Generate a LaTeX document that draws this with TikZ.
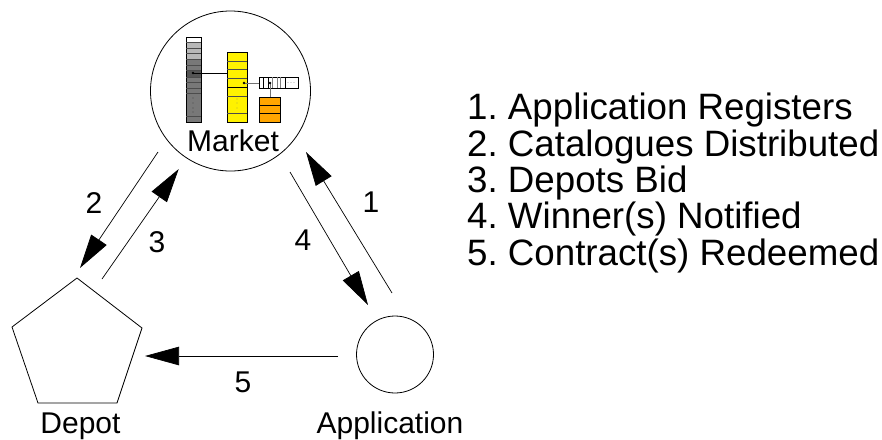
\documentclass[tikz,border=0pt]{standalone}
\usepackage{fontspec}
\setmainfont{Liberation Sans}
\usetikzlibrary{arrows.meta}
\tikzset{
  conn/.style={draw,line width=0.7pt,-{Triangle[length=34pt,width=18.5pt]}},
  lab/.style={font=\fontsize{30}{30}\selectfont,inner sep=0pt,anchor=base},
  key/.style={font=\fontsize{36.7}{36.7}\selectfont,inner sep=0pt,anchor=base west},
  cell/.style={draw=black,line width=1pt},
  link/.style={line width=1pt}
}
\definecolor{gA}{gray}{0.47}
\definecolor{gB}{gray}{0.72}
\definecolor{gC}{gray}{0.33}
\definecolor{oran}{RGB}{255,165,0}
\begin{document}
\frenchspacing
\begin{tikzpicture}[x=1pt,y=-1pt]
\useasboundingbox (0,0) rectangle (882,439);
\node[draw,circle,line width=0.8pt,minimum size=160pt,inner sep=0pt] (market) at (230.5,91) {};
\node[draw,circle,line width=0.8pt,minimum size=77pt,inner sep=0pt] (app) at (395,354.5) {};
\coordinate (p1) at (77,278);
\coordinate (p2) at (142,328);
\coordinate (p3) at (117,403);
\coordinate (p4) at (38,403);
\coordinate (p5) at (12,327);
\draw[line width=0.8pt] (p1)--(p2)--(p3)--(p4)--(p5)--cycle;
% grey column
\fill[gA] (186,37) rectangle (201,122);
\fill[white] (186,37) rectangle (201,42);
\fill[gB] (186,42) rectangle (201,59);
\fill[gC] (186,70) rectangle (201,77);
\draw[cell] (186,37) rectangle (201,122);
\foreach \y in {42,48,53,59,65,70,77,82,88,93,116} \draw[black!70,line width=0.8pt] (186,\y)--(201,\y);
\foreach \y in {98,103,108,112} \fill[black!70] (193,\y) circle (0.6pt);
% yellow column
\fill[yellow] (227,52) rectangle (247,122);
\draw[cell] (227,52) rectangle (247,122);
\foreach \y in {61,69,78,96,113} \draw[black!70,line width=0.9pt] (227,\y)--(247,\y);
\draw[cell] (227,87)--(247,87);
\foreach \y in {99,103,108} \fill[yellow!70!black] (237,\y) circle (0.7pt);
% orange column
\fill[oran] (259,97) rectangle (280,122);
\draw[cell] (259,97) rectangle (280,122);
\foreach \y in {105,113} \draw[cell] (259,\y)--(280,\y);
% queue
\draw[cell] (259,77) rectangle (298,88);
\foreach \x in {263,268,285} \draw[black,line width=0.8pt] (\x,77)--(\x,88);
\foreach \x in {272,277,280} \draw[black!50,line width=1pt] (\x,77)--(\x,88);
\foreach \x in {288,291,294} \fill[black!60] (\x,82.5) circle (0.4pt);
% links
\draw[link] (193,73)--(227,73);
\fill (193,73) circle (1.3pt);
\draw[link,black!55] (244,83)--(259,83);
\fill (244,83) circle (1.3pt);
\draw[link,black!55] (270,83)--(270,97);
\fill (270,83) circle (1.3pt);
% labels
\node[lab] (lm) at (233,151) {Market};
\node[lab] (ld) at (80.5,433) {Depot};
\node[lab] (la) at (390,433) {Application};
\node[lab] (l1) at (371,212) {1};
\node[lab] (l2) at (94,213) {2};
\node[lab] (l3) at (157,252) {3};
\node[lab] (l4) at (303,250) {4};
\node[lab] (l5) at (243,392) {5};
% connectors
\coordinate (a2s) at (158,152);
\coordinate (a2e) at (80,268);
\coordinate (a3s) at (102,279);
\coordinate (a3e) at (178.7,169);
\coordinate (a1s) at (392,293);
\coordinate (a1e) at (306,152);
\coordinate (a4s) at (290,172);
\coordinate (a4e) at (368,305);
\coordinate (a5s) at (338,356);
\coordinate (a5e) at (145,356);
\draw[conn] (a1s)--(a1e);
\draw[conn] (a2s)--(a2e);
\draw[conn] (a3s)--(a3e);
\draw[conn] (a4s)--(a4e);
\draw[conn] (a5s)--(a5e);
% key
\node[key] (k1) at (467,119) {1. Application Registers};
\node[key] (k2) at (467,156) {2. Catalogues Distributed};
\node[key] (k3) at (467,192) {3. Depots Bid};
\node[key] (k4) at (467,228.5) {4. Winner(s) Notified};
\node[key] (k5) at (467,265) {5. Contract(s) Redeemed};
\end{tikzpicture}
\end{document}
